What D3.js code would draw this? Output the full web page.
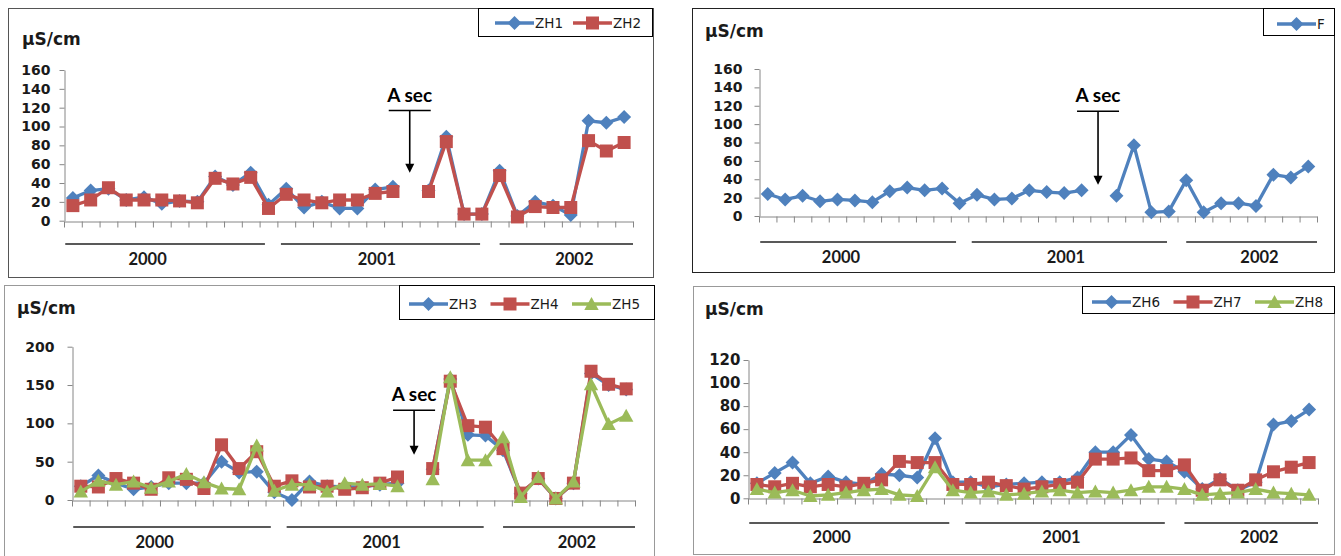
<!DOCTYPE html>
<html>
<head>
<meta charset="utf-8">
<script src="https://cdn.jsdelivr.net/npm/d3@7"></script>
<style>
  html, body { margin: 0; padding: 0; background: #fff; }
  svg { display: block; }
</style>
</head>
<body>
<svg id="chart" width="1341" height="556"></svg>
<script>
// ---- data ---------------------------------------------------------------
// 32 sampling campaigns, 2000-2002 (no sample at campaign 20 except ZH6-ZH8)
const samplings = [1, 2, 3, 4, 5, 6, 7, 8, 9, 10, 11, 12, 13, 14, 15, 16,
                   17, 18, 19, 20, 21, 22, 23, 24, 25, 26, 27, 28, 29, 30, 31, 32];
const years = ["2000", "2001", "2002"];
const yearFirst = [0, 12, 24];   // first campaign index of each year
const yearLast = [11, 23, 31];   // last campaign index of each year
const dryIndex = 19;             // "A sec" campaign (dry well)

// electrical conductivity, µS/cm
const zh1 = [24, 32, 34, 22, 25, 18, 21, 20, 47, 38, 51, 17, 34, 14, 20, 13,
             13, 33, 36, null, 32, 89, 7, 7, 53, 5, 20, 16, 6, 106, 104, 110];
const zh2 = [16, 22, 35, 22, 22, 22, 21, 19, 45, 39, 46, 13, 28, 22, 19, 22,
             22, 29, 31, null, 31, 84, 7, 7, 48, 4, 15, 14, 14, 85, 74, 83];
const f   = [24, 18, 22, 16, 18, 17, 15, 27, 31, 28, 30, 14, 23, 18, 19, 28,
             26, 25, 28, null, 22, 77, 4, 5, 39, 4, 14, 14, 11, 45, 42, 54];
const zh3 = [18, 32, 22, 14, 17, 22, 22, 22, 50, 36, 37, 10, 0, 24, 18, 17,
             17, 20, 22, null, 40, 158, 85, 84, 65, 8, 28, 2, 22, 165, 150, 144];
const zh4 = [18, 17, 28, 22, 14, 29, 27, 15, 72, 41, 63, 18, 25, 17, 18, 14,
             16, 22, 30, null, 41, 155, 97, 95, 67, 9, 28, 2, 22, 168, 151, 145];
const zh5 = [11, 25, 20, 24, 16, 24, 34, 23, 15, 14, 71, 12, 20, 20, 11, 22,
             20, 21, 18, null, 27, 160, 52, 52, 82, 4, 30, 2, 24, 151, 99, 110];
const zh6 = [13, 22, 31, 13, 19, 14, 12, 21, 20, 18, 52, 14, 14, 10, 12, 13,
             14, 14, 18, 40, 40, 55, 34, 32, 23, 8, 17, 7, 14, 64, 67, 77];
const zh7 = [12, 10, 13, 10, 12, 10, 13, 16, 32, 31, 31, 12, 12, 14, 11, 8,
             10, 12, 14, 34, 34, 35, 24, 24, 29, 7, 16, 7, 16, 23, 27, 31];
const zh8 = [8, 5, 7, 2, 3, 5, 7, 8, 3, 2, 27, 7, 5, 6, 3, 4,
             6, 7, 5, 6, 5, 7, 10, 10, 8, 3, 4, 5, 8, 5, 4, 3];

// y-axis tick labels
const ticks160 = [0, 20, 40, 60, 80, 100, 120, 140, 160];
const ticks200 = [0, 50, 100, 150, 200];
const ticks120 = [0, 20, 40, 60, 80, 100, 120];

const unitLabel = "µS/cm";
const dryLabel = "A sec";

// ---- styles ---------------------------------------------------------------
const BLUE = "#4F81BD", RED = "#C0504D", GREEN = "#9BBB59";
const TEXT = "#1a1a1a", AXIS = "#868686";
const sym = { diamond: "diamond", square: "square", triangle: "triangle" };

// year underline extents (in campaign units, inset from the year span)
const yearLineInset = [[0.07, 0.7], [0.2, 0.6], [0.5, 0]];
const yearLabelShift = [-1.3, -0.4, 0.7];

const panels = [
  {
    border: [8, 8, 653, 277], borderColor: "#555",
    x0: 64, x1: 633, yZero: 220.7, yTop: 70, yMax: 160, yTicks: ticks160,
    tickPad: 9, tickFont: 14, title: [22, 45],
    yearLineY: 244, yearLabelY: 265,
    legendBox: [478, 8, 652, 36], legendX: 495, legendPitch: 78, legendY: 23,
    dry: { bar: 117, tip: 51 },
    series: [
      { name: "ZH1", values: zh1, color: BLUE, shape: sym.diamond },
      { name: "ZH2", values: zh2, color: RED, shape: sym.square }
    ]
  },
  {
    border: [692, 8, 1334, 272], borderColor: "#222",
    x0: 759, x1: 1317, yZero: 216, yTop: 69, yMax: 160, yTicks: ticks160,
    tickPad: 12, tickFont: 14, title: [705, 37],
    yearLineY: 242, yearLabelY: 263,
    legendBox: [1263, 8, 1334, 35], legendX: 1277, legendPitch: 78, legendY: 24,
    dry: { bar: 114, tip: 34 },
    series: [
      { name: "F", values: f, color: BLUE, shape: sym.diamond }
    ]
  },
  {
    border: [4, 285, 654, 562], borderColor: "#999",
    x0: 72, x1: 635, yZero: 500, yTop: 346.7, yMax: 200, yTicks: ticks200,
    tickPad: 13, tickFont: 14, title: [17, 314],
    yearLineY: 527, yearLabelY: 548,
    legendBox: [399, 285, 654, 319], legendX: 409, legendPitch: 81.5, legendY: 304,
    dry: { bar: 117, tip: 59 },
    series: [
      { name: "ZH3", values: zh3, color: BLUE, shape: sym.diamond },
      { name: "ZH4", values: zh4, color: RED, shape: sym.square },
      { name: "ZH5", values: zh5, color: GREEN, shape: sym.triangle }
    ]
  },
  {
    border: [693, 286, 1334, 554], borderColor: "#999",
    x0: 748, x1: 1318, yZero: 498.3, yTop: 360, yMax: 120, yTicks: ticks120,
    tickPad: 3, tickFont: 15, title: [705, 315],
    yearLineY: 523, yearLabelY: 543,
    legendBox: [1082, 286, 1334, 313], legendX: 1092, legendPitch: 81.5, legendY: 302,
    dry: null,
    series: [
      { name: "ZH6", values: zh6, color: BLUE, shape: sym.diamond },
      { name: "ZH7", values: zh7, color: RED, shape: sym.square },
      { name: "ZH8", values: zh8, color: GREEN, shape: sym.triangle }
    ]
  }
];

// ---- marker shapes (centred on the data point) ----------------------------
function markerPath(shape) {
  if (shape === "diamond") return "M0,-7L7,0L0,7L-7,0Z";
  if (shape === "square") return "M-6.5,-6.5H6.5V6.5H-6.5Z";
  return "M0,-7L7.2,6H-7.2Z";
}

const svg = d3.select("#chart");

panels.forEach(p => {
  const g = svg.append("g");
  const [bx0, by0, bx1, by1] = p.border;

  // chart frame
  g.append("rect")
    .attr("x", bx0 + 0.5).attr("y", by0 + 0.5)
    .attr("width", bx1 - bx0).attr("height", by1 - by0)
    .attr("fill", "#fff").attr("stroke", p.borderColor).attr("stroke-width", 1);

  // scales
  const xEdge = d3.scaleLinear().domain([0, samplings.length]).range([p.x0, p.x1]);
  const x = d3.scaleBand().domain(samplings).range([p.x0, p.x1]).padding(0);
  const cx = i => x(samplings[i]) + x.bandwidth() / 2;
  const y = d3.scaleLinear().domain([0, p.yMax]).range([p.yZero, p.yTop]);

  // y axis
  const yAxis = g.append("g")
    .attr("transform", `translate(${Math.round(p.x0) + 0.5},0)`)
    .call(d3.axisLeft(y).tickValues(p.yTicks).tickSize(5).tickSizeOuter(0)
      .tickPadding(p.tickPad));
  yAxis.select(".domain").attr("stroke", AXIS);
  yAxis.selectAll(".tick line").attr("stroke", AXIS);
  yAxis.selectAll(".tick text")
    .attr("fill", TEXT)
    .attr("font-family", "'DejaVu Sans', Verdana, sans-serif")
    .attr("font-weight", "bold")
    .attr("font-size", p.tickFont);

  // x axis (ticks between campaigns, no labels)
  const xAxis = g.append("g")
    .attr("transform", `translate(0,${Math.round(p.yZero) + 0.5})`)
    .call(d3.axisBottom(xEdge).tickValues(d3.range(samplings.length + 1))
      .tickSize(6).tickSizeOuter(0).tickFormat(""));
  xAxis.select(".domain").attr("stroke", AXIS);
  xAxis.selectAll(".tick line").attr("stroke", AXIS);

  // unit title
  g.append("text")
    .attr("x", p.title[0]).attr("y", p.title[1])
    .attr("fill", TEXT)
    .attr("font-family", "'DejaVu Sans', Verdana, sans-serif")
    .attr("font-weight", "bold").attr("font-size", 17)
    .text(unitLabel);

  // year groups under the axis
  years.forEach((yr, k) => {
    const a = yearFirst[k] + yearLineInset[k][0];
    const b = yearLast[k] + 1 - yearLineInset[k][1];
    g.append("line")
      .attr("x1", xEdge(a)).attr("x2", xEdge(b))
      .attr("y1", p.yearLineY).attr("y2", p.yearLineY)
      .attr("stroke", "#222").attr("stroke-width", 1.6);
    const mid = (yearFirst[k] + yearLast[k] + 1) / 2 + yearLabelShift[k];
    g.append("text")
      .attr("x", xEdge(mid)).attr("y", p.yearLabelY)
      .attr("text-anchor", "middle")
      .attr("fill", TEXT)
      .attr("font-family", "Lato, 'Open Sans', sans-serif")
      .attr("font-weight", "bold").attr("font-size", 16.5)
      .text(yr);
  });

  // "A sec" annotation with arrow
  if (p.dry) {
    const ax = xEdge(dryIndex + 0.5) - 1;
    const barY = y(p.dry.bar), tipY = y(p.dry.tip);
    g.append("text")
      .attr("x", ax).attr("y", barY - 9)
      .attr("text-anchor", "middle")
      .attr("fill", "#000")
      .attr("font-family", "Lato, 'Open Sans', sans-serif")
      .attr("font-weight", "bold").attr("font-size", 19)
      .text(dryLabel);
    g.append("line")
      .attr("x1", ax - 21).attr("x2", ax + 21)
      .attr("y1", barY).attr("y2", barY)
      .attr("stroke", "#000").attr("stroke-width", 1.5);
    g.append("line")
      .attr("x1", ax).attr("x2", ax)
      .attr("y1", barY).attr("y2", tipY - 8)
      .attr("stroke", "#000").attr("stroke-width", 1.6);
    g.append("path")
      .attr("d", `M${ax - 4.5},${tipY - 9}L${ax + 4.5},${tipY - 9}L${ax},${tipY}Z`)
      .attr("fill", "#000");
  }

  // series: line then markers, drawn in series order
  const line = d3.line()
    .defined(d => d.v != null)
    .x(d => cx(d.i))
    .y(d => y(d.v));

  p.series.forEach(s => {
    const pts = s.values.map((v, i) => ({ i, v }));
    g.append("path")
      .datum(pts)
      .attr("d", line)
      .attr("fill", "none")
      .attr("stroke", s.color)
      .attr("stroke-width", 3.3)
      .attr("stroke-linejoin", "round");
    g.selectAll(null)
      .data(pts.filter(d => d.v != null))
      .join("path")
      .attr("transform", d => `translate(${cx(d.i)},${y(d.v)})`)
      .attr("d", markerPath(s.shape))
      .attr("fill", s.color);
  });

  // legend
  const [lx0, ly0, lx1, ly1] = p.legendBox;
  g.append("rect")
    .attr("x", lx0 + 0.5).attr("y", ly0 + 0.5)
    .attr("width", lx1 - lx0).attr("height", ly1 - ly0)
    .attr("fill", "#fff").attr("stroke", "#000").attr("stroke-width", 1);
  p.series.forEach((s, k) => {
    const sx = p.legendX + k * p.legendPitch;
    g.append("line")
      .attr("x1", sx).attr("x2", sx + 39)
      .attr("y1", p.legendY).attr("y2", p.legendY)
      .attr("stroke", s.color).attr("stroke-width", 3.3);
    g.append("path")
      .attr("transform", `translate(${sx + 19.5},${p.legendY})`)
      .attr("d", markerPath(s.shape))
      .attr("fill", s.color);
    g.append("text")
      .attr("x", sx + 40).attr("y", p.legendY + 5)
      .attr("fill", TEXT)
      .attr("font-family", "'DejaVu Sans', Verdana, sans-serif")
      .attr("font-size", 13.5)
      .text(s.name);
  });
});
</script>
</body>
</html>
